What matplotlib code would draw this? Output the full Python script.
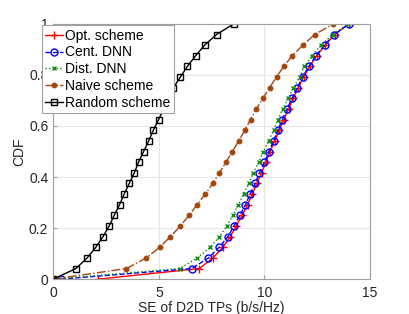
import matplotlib
matplotlib.use("Agg")
import matplotlib.pyplot as plt
import numpy as np
from matplotlib.ticker import FormatStrFormatter

plt.rcParams['font.family'] = ['Liberation Sans', 'DejaVu Sans']

# CDF levels shared by all curves (25 samples)
cdf = np.arange(25) / 24.0

opt_se = [2.14, 6.92, 7.56, 8.03, 8.38, 8.66, 8.94, 9.20, 9.42, 9.64, 9.86, 10.07,
          10.27, 10.48, 10.70, 10.91, 11.14, 11.36, 11.60, 11.85, 12.14, 12.47,
          12.87, 13.32, 14.0]
cent_se = [0.36, 6.56, 7.35, 7.86, 8.27, 8.55, 8.84, 9.10, 9.32, 9.56, 9.76, 10.00,
           10.21, 10.43, 10.63, 10.84, 11.07, 11.30, 11.55, 11.80, 12.10, 12.43,
           12.84, 13.30, 14.0]
dist_se = [0.0, 5.98, 6.83, 7.43, 7.87, 8.22, 8.50, 8.76, 9.01, 9.26, 9.48, 9.73,
           9.95, 10.19, 10.43, 10.63, 10.87, 11.12, 11.37, 11.66, 11.88, 12.26,
           12.67, 13.22, 13.96]
naive_se = [0.0, 3.47, 4.41, 5.04, 5.55, 6.02, 6.43, 6.81, 7.20, 7.55, 7.87, 8.18,
            8.48, 8.78, 9.07, 9.34, 9.62, 9.92, 10.24, 10.57, 10.91, 11.31, 11.82,
            12.38, 13.26]
random_se = [0.0, 1.08, 1.61, 2.02, 2.36, 2.65, 2.89, 3.14, 3.36, 3.60, 3.84, 4.04,
             4.28, 4.52, 4.74, 4.99, 5.23, 5.45, 5.69, 6.02, 6.35, 6.74, 7.17, 7.73,
             8.55]

fig = plt.figure(figsize=(4.09, 3.14), dpi=100)
ax = fig.add_axes([0.13, 0.111, 0.775, 0.813])

ax.plot(opt_se, cdf, color='red', linestyle='-', marker='+', markersize=5.5,
        linewidth=1, label='Opt. scheme')
ax.plot(cent_se, cdf, color='blue', linestyle='--', marker='o', markersize=5,
        markerfacecolor='none', linewidth=1, label='Cent. DNN')
ax.plot(dist_se, cdf, color='#138a13', linestyle=':', marker='x', markersize=3.5,
        linewidth=1, label='Dist. DNN')
ax.plot(naive_se, cdf, color='#a5450f', linestyle='-.', marker='o', markersize=3.2,
        linewidth=1, label='Naive scheme')
ax.plot(random_se, cdf, color='black', linestyle='-', marker='s', markersize=4,
        markerfacecolor='none', linewidth=1, label='Random scheme')

ax.set_xlim(0, 15)
ax.set_ylim(0, 1)
ax.set_xticks([0, 5, 10, 15])
ax.set_yticks([0, 0.2, 0.4, 0.6, 0.8, 1])
ax.yaxis.set_major_formatter(FormatStrFormatter('%g'))
ax.grid(True, color='#e6e6e6', linewidth=0.8)
ax.set_axisbelow(True)
for s in ax.spines.values():
    s.set_color('#a0a0a0')
    s.set_linewidth(0.8)
ax.tick_params(direction='in', length=3, color='#a0a0a0', labelsize=10,
               labelcolor='#262626', top=False, right=False)
ax.tick_params(axis='x', pad=5)
ax.set_xlabel('SE of D2D TPs (b/s/Hz)', fontsize=10, color='#262626', labelpad=1)
ax.set_ylabel('CDF', fontsize=10, color='#262626', labelpad=2)

leg = ax.legend(loc='upper left', bbox_to_anchor=(0.102, 0.92),
                bbox_transform=fig.transFigure, fontsize=10, handlelength=1.3,
                handletextpad=0.15, borderpad=0.25, labelspacing=0.2,
                borderaxespad=0, fancybox=False, framealpha=1)
leg.get_frame().set_edgecolor('#a0a0a0')
leg.get_frame().set_linewidth(0.8)

fig.savefig('out.png', dpi=100)
